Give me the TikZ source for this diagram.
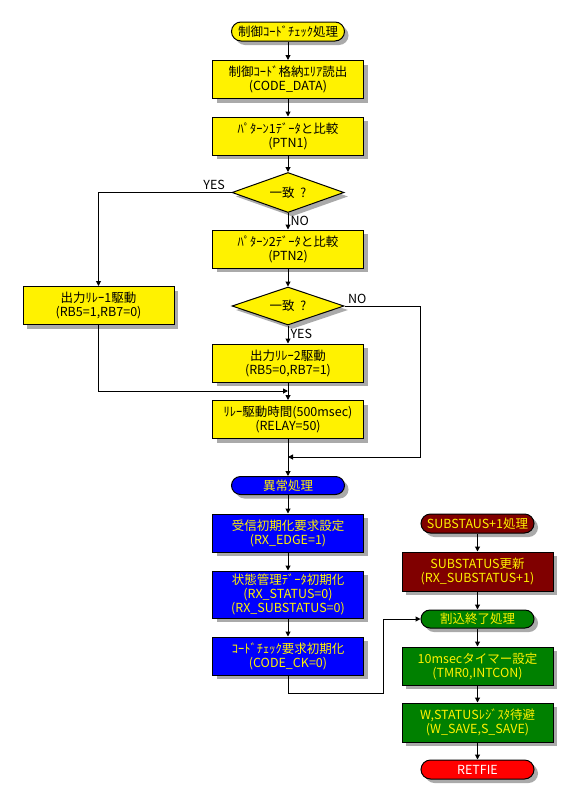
\documentclass[tikz,border=0pt]{standalone}
\usepackage{fontspec}
\setmainfont{Noto Sans CJK JP}
\usetikzlibrary{arrows.meta,shapes.geometric,shapes.misc,shadows}
\newcommand\myfs{\fontsize{12.5}{14}\selectfont}
\definecolor{dred}{RGB}{128,0,0}
\definecolor{dgreen}{RGB}{0,128,0}
\definecolor{shade}{RGB}{170,170,170}
\tikzset{
  base/.style={draw=black, line width=1pt, inner sep=0pt, align=center, font=\myfs,
    drop shadow={shadow xshift=4pt, shadow yshift=-4pt, fill=shade, opacity=1}},
  procbox/.style={base, rectangle, minimum width=151pt, minimum height=38pt},
  termbox/.style={base, rounded rectangle, rounded rectangle arc length=180, minimum width=113pt, minimum height=19pt},
  decbox/.style={base, diamond, aspect=2.8, minimum width=112pt, minimum height=40pt, fill=yellow},
  ybox/.style={procbox, fill=yellow, text=black},
  bbox/.style={procbox, fill=blue, text=yellow},
  rbox/.style={procbox, fill=dred, text=yellow},
  gbox/.style={procbox, fill=dgreen, text=yellow},
  arr/.style={draw=black, line width=1pt, -{Triangle[width=5pt,length=5pt]}},
  lbl/.style={font=\myfs, inner sep=2pt}
}
\begin{document}
\begin{tikzpicture}[x=1pt,y=-1pt]
\fill[white] (0,0) rectangle (575,801);
\useasboundingbox (0,0) rectangle (575,801);

% main column
\node[termbox, fill=yellow] (start) at (288,31.5) {制御ｺｰﾄﾞﾁｪｯｸ処理};
\node[ybox] (b1) at (288,79.5) {制御ｺｰﾄﾞ格納ｴﾘｱ読出\\(CODE\_DATA)};
\node[ybox] (b2) at (288,136) {ﾊﾟﾀｰﾝ1ﾃﾞｰﾀと比較\\(PTN1)};
\node[decbox] (d1) at (288,192.5) {一致\ \ ?};
\node[ybox] (b3) at (288,249) {ﾊﾟﾀｰﾝ2ﾃﾞｰﾀと比較\\(PTN2)};
\node[ybox] (lb) at (98.5,305.5) {出力ﾘﾚｰ1駆動\\(RB5=1,RB7=0)};
\node[decbox, minimum height=38pt] (d2) at (288,306) {一致\ \ ?};
\node[ybox] (b4) at (288,363) {出力ﾘﾚｰ2駆動\\(RB5=0,RB7=1)};
\node[ybox] (b5) at (288,419.5) {ﾘﾚｰ駆動時間(500msec)\\(RELAY=50)};
\node[termbox, fill=blue, text=yellow, minimum height=18pt] (abn) at (288,485.5) {異常処理};
\node[bbox] (bl1) at (288,533) {受信初期化要求設定\\(RX\_EDGE=1)};
\node[bbox, minimum height=47pt] (bl2) at (288,594.5) {状態管理ﾃﾞｰﾀ初期化\\(RX\_STATUS=0)\\(RX\_SUBSTATUS=0)};
\node[bbox] (bl3) at (288,656) {ｺｰﾄﾞﾁｪｯｸ要求初期化\\(CODE\_CK=0)};

% right column
\node[termbox, fill=dred, text=yellow] (sub1) at (477.5,523.5) {SUBSTAUS+1処理};
\node[rbox, minimum height=39pt] (sub2) at (477.5,571.5) {SUBSTATUS更新\\(RX\_SUBSTATUS+1)};
\node[termbox, fill=dgreen, text=yellow, minimum height=18pt] (irq) at (477.5,619) {割込終了処理};
\node[gbox] (g1) at (477.5,666) {10msecタイマー設定\\(TMR0,INTCON)};
\node[gbox, minimum height=39pt] (g2) at (477.5,722.5) {W,STATUSﾚｼﾞｽﾀ待避\\(W\_SAVE,S\_SAVE)};
\node[termbox, fill=red, text=white] (ret) at (477.5,769.5) {RETFIE};

% helper coordinates
\coordinate (j1) at (288,391);
\coordinate (j2) at (288,457);
\coordinate (rx) at (420,457);
\coordinate (lx) at (383,693);

% connectors main
\draw[arr] (start.south) -- (b1.north);
\draw[arr] (b1.south) -- (b2.north);
\draw[arr] (b2.south) -- (d1.north);
\draw[arr] (d1.west) -- node[lbl, above, pos=0.13] {YES} (d1.west -| lb.north) -- (lb.north);
\draw[arr] (d1.south) -- node[lbl, right, pos=0.5] {NO} (b3.north);
\draw[arr] (b3.south) -- (d2.north);
\draw[arr] (d2.south) -- node[lbl, right, pos=0.45] {YES} (b4.north);
\draw[arr] (d2.east) -- node[lbl, above, pos=0.17] {NO} (d2.east -| rx) -- (rx) -- (j2);
\draw[arr] (lb.south) |- (j1);
\draw[arr] (b4.south) -- (b5.north);
\draw[arr] (b5.south) -- (abn.north);
\draw[arr] (abn.south) -- (bl1.north);
\draw[arr] (bl1.south) -- (bl2.north);
\draw[arr] (bl2.south) -- (bl3.north);
\draw[arr] (bl3.south) |- (lx) |- (irq.west);

% connectors right
\draw[arr] (sub1.south) -- (sub2.north);
\draw[arr] (sub2.south) -- (irq.north);
\draw[arr] (irq.south) -- (g1.north);
\draw[arr] (g1.south) -- (g2.north);
\draw[arr] (g2.south) -- (ret.north);
\end{tikzpicture}
\end{document}
